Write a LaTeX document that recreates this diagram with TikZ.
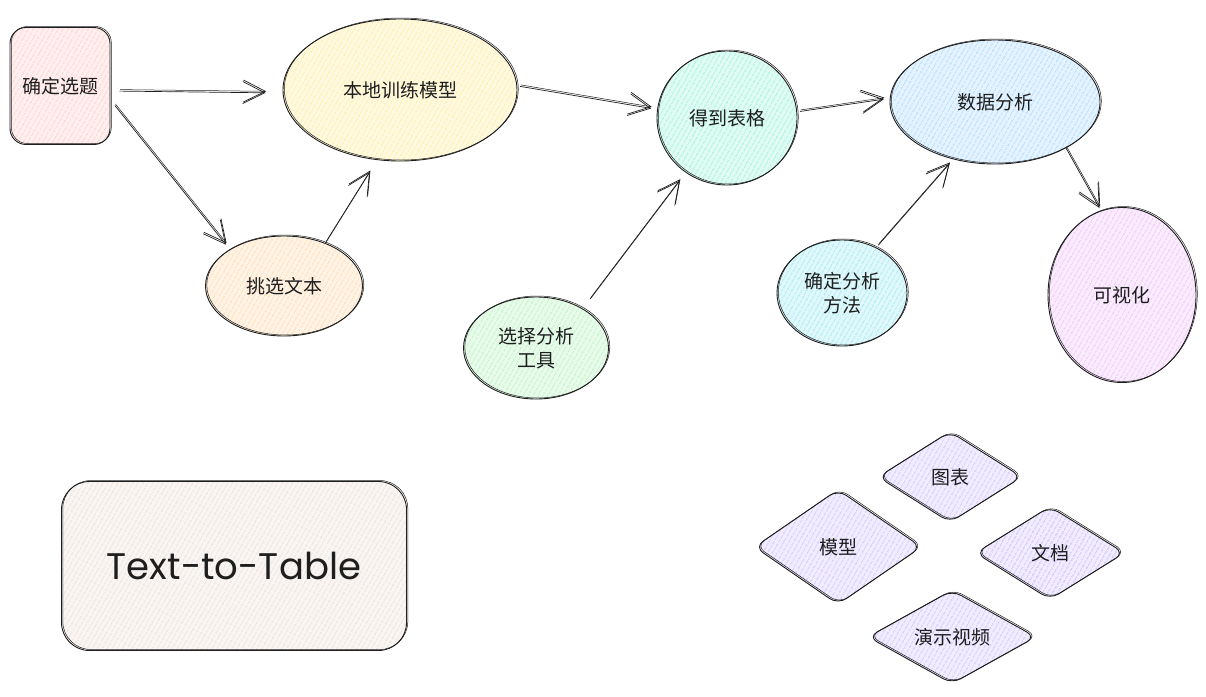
\documentclass[tikz,border=0pt]{standalone}
\usepackage{fontspec}
\setmainfont{Noto Sans CJK SC}
\newfontfamily\handfont{Poppins}
\usetikzlibrary{shapes.geometric,arrows.meta,patterns.meta}

\definecolor{ink}{HTML}{1E1E1E}
\definecolor{pinkc}{HTML}{FFC9C9}
\definecolor{yellowc}{HTML}{FFEC99}
\definecolor{orangec}{HTML}{FFD8A8}
\definecolor{mintc}{HTML}{96F2D7}
\definecolor{bluec}{HTML}{A5D8FF}
\definecolor{greenc}{HTML}{B2F2BB}
\definecolor{cyanc}{HTML}{99E9F2}
\definecolor{grapec}{HTML}{EEBEFA}
\definecolor{violetc}{HTML}{D0BFFF}
\definecolor{beigec}{HTML}{EADDD7}

\begin{document}
\begin{tikzpicture}[x=1pt,y=-1pt]
  \tikzset{hatch/.style={preaction={fill=#1!30}, pattern={Lines[angle=60,distance=4pt,line width=1pt]}, pattern color=#1}}
  \tikzstyle{sketch}=[draw=ink, line width=0.9pt, text=ink, inner sep=0pt, align=center,
    font=\fontsize{19}{24}\selectfont,
    postaction={draw=ink, line width=0.5pt, transform canvas={shift={(1.3pt,1pt)}}}]
  \tikzstyle{arr}=[draw=ink, line width=0.7pt, -{Straight Barb[length=22pt,width=22pt,line width=0.7pt]},
    shorten <=3pt, shorten >=6pt,
    postaction={draw=ink, line width=0.5pt, transform canvas={shift={(0.6pt,1.5pt)}}}]
  \useasboundingbox (0,0) rectangle (1206,696);

  % top row
  \node[sketch, hatch=pinkc, rectangle, rounded corners=16pt, minimum width=100, minimum height=117] (topic) at (60,86) {确定选题};
  \node[sketch, hatch=yellowc, ellipse, minimum width=234, minimum height=142] (train) at (400,90) {本地训练模型};
  \node[sketch, hatch=orangec, ellipse, minimum width=157, minimum height=100] (pick) at (284,286) {挑选文本};
  \node[sketch, hatch=mintc, ellipse, minimum width=140, minimum height=134] (table) at (727,118) {得到表格};
  \node[sketch, hatch=bluec, ellipse, minimum width=210, minimum height=124] (analysis) at (995,102) {数据分析};
  \node[sketch, hatch=greenc, ellipse, minimum width=145, minimum height=102] (tool) at (536,348) {选择分析\\工具};
  \node[sketch, hatch=cyanc, ellipse, minimum width=130, minimum height=106] (method) at (842,293) {确定分析\\方法};
  \node[sketch, hatch=grapec, ellipse, minimum width=148, minimum height=175] (vis) at (1122,295) {可视化};

  % title box
  \node[sketch, hatch=beigec, rectangle, rounded corners=28pt, minimum width=345, minimum height=169,
    font=\handfont\fontsize{37}{44}\selectfont] (title) at (234,566) {Text-to-Table};

  % outputs
  \node[sketch, hatch=violetc, diamond, rounded corners=10pt, minimum width=144, minimum height=91] (chart) at (950,477) {图表};
  \node[sketch, hatch=violetc, diamond, rounded corners=10pt, minimum width=167, minimum height=115] (model) at (838,547) {模型};
  \node[sketch, hatch=violetc, diamond, rounded corners=10pt, minimum width=149, minimum height=93] (doc) at (1050,553) {文档};
  \node[sketch, hatch=violetc, diamond, rounded corners=10pt, minimum width=168, minimum height=90] (demo) at (952,637) {演示视频};

  % arrows
  \draw[arr, shorten <=9pt, shorten >=17pt] ([yshift=-5pt]topic.east) -- ([yshift=-3pt]train.west);
  \draw[arr, shorten <=7pt] ([yshift=-14pt]topic.east) -- (pick.146);
  \draw[arr, shorten <=0pt, shorten >=14pt] (pick.46) -- (train.252);
  \draw[arr] (train.2) -- (table.173);
  \draw[arr, shorten <=12pt, shorten >=10pt] (tool.40) -- (table.233);
  \draw[arr] (table.5) -- (analysis.178);
  \draw[arr] (method.53) -- (analysis.234);
  \draw[arr, shorten <=0pt, shorten >=3pt] (analysis.-33) -- (vis.104);
\end{tikzpicture}
\end{document}
